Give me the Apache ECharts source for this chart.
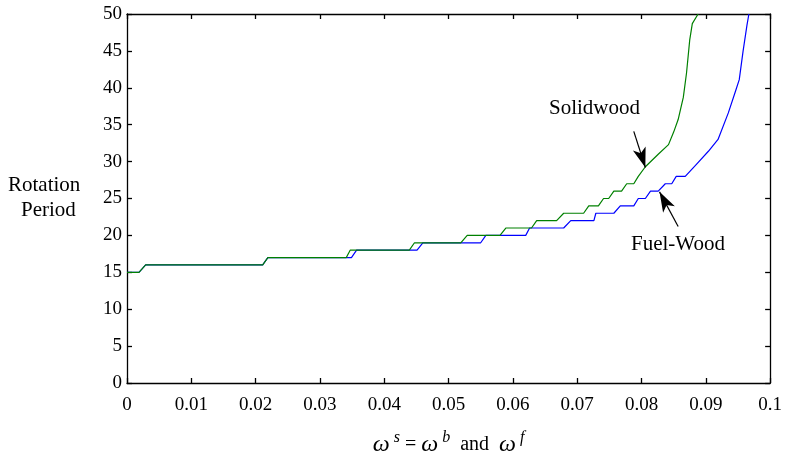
<!DOCTYPE html>
<html><head><meta charset="utf-8">
<script src="https://cdn.jsdelivr.net/npm/echarts@6/dist/echarts.min.js"></script>
<style>html,body{margin:0;padding:0;background:#fff}#c{width:785px;height:462px}</style>
</head><body><div id="c"></div>
<script>
// Solidwood (green)
var solidX = [0, 0.00186, 0.0029, 0.0211, 0.0219, 0.0341, 0.0347, 0.0439, 0.0447, 0.0519, 0.0529, 0.0580, 0.0589, 0.0629, 0.0637, 0.0668, 0.0679, 0.0710, 0.0718, 0.0733, 0.0741, 0.0749, 0.0757, 0.0769, 0.0777, 0.0788, 0.0795, 0.0806, 0.0826, 0.0842, 0.0850, 0.0857, 0.0865, 0.0870, 0.0875, 0.0879, 0.0888];
var solidY = [15, 15, 16, 16, 17, 17, 18, 18, 19, 19, 20, 20, 21, 21, 22, 22, 23, 23, 24, 24, 25, 25, 26, 26, 27, 27, 28, 29.3, 31.0, 32.3, 34.0, 35.7, 38.7, 42.0, 46.5, 48.7, 50];
// Fuel-Wood (blue)
var fuelX = [0, 0.00186, 0.0029, 0.0211, 0.0219, 0.0349, 0.0357, 0.0451, 0.0460, 0.0550, 0.0558, 0.0620, 0.0626, 0.0679, 0.0690, 0.0726, 0.0729, 0.0757, 0.0767, 0.0788, 0.0795, 0.0806, 0.0814, 0.0826, 0.0837, 0.0847, 0.0854, 0.0868, 0.0885, 0.0904, 0.0919, 0.0935, 0.0946, 0.0952, 0.0958, 0.0964, 0.0967];
var fuelY = [15, 15, 16, 16, 17, 17, 18, 18, 19, 19, 20, 20, 21, 21, 22, 22, 23, 23, 24, 24, 25, 25, 26, 26, 27, 27, 28, 28, 29.6, 31.4, 33.0, 36.6, 39.5, 41.1, 45.0, 48.5, 50];
var xTickLabels = ['0', '0.01', '0.02', '0.03', '0.04', '0.05', '0.06', '0.07', '0.08', '0.09', '0.1'];
var yTickLabels = ['0', '5', '10', '15', '20', '25', '30', '35', '40', '45', '50'];

function pairs(xs, ys) { return xs.map(function (x, i) { return [x, ys[i]]; }); }

var FONT = 'Liberation Serif';
var chart = echarts.init(document.getElementById('c'));
var axisLine = { show: true, onZero: false, lineStyle: { color: '#000', width: 1.3 } };
var tick = { show: true, inside: true, length: 5, lineStyle: { color: '#000', width: 1.3 } };
var option = {
  animation: false,
  backgroundColor: '#fff',
  grid: { left: 127, right: 13, top: 14, bottom: 77 },
  xAxis: [{
    type: 'value', min: 0, max: 0.1, interval: 0.01,
    axisLine: axisLine, axisTick: tick, splitLine: { show: false },
    axisLabel: { color: '#000', fontFamily: FONT, fontSize: 19, margin: 13,
      formatter: function (v) { return xTickLabels[Math.round(v / 0.01)]; } },
    name: '{w|ω}{sup| s}{t| = }{w|ω}{sup| b}{t|  and  }{w|ω}{sup| f}',
    nameLocation: 'middle', nameGap: 47,
    nameTextStyle: { rich: {
      w: { fontFamily: FONT, fontStyle: 'italic', fontSize: 24, color: '#000' },
      sup: { fontFamily: FONT, fontStyle: 'italic', fontSize: 16, color: '#000', verticalAlign: 'top', padding: [0, 0, 14, 0] },
      t: { fontFamily: FONT, fontSize: 20, color: '#000' }
    } }
  }, {
    type: 'value', position: 'top', min: 0, max: 0.1, interval: 0.01,
    axisLine: axisLine, axisTick: tick, axisLabel: { show: false }, splitLine: { show: false }
  }],
  yAxis: [{
    type: 'value', min: 0, max: 50, interval: 5,
    axisLine: axisLine, axisTick: tick, splitLine: { show: false },
    axisLabel: { color: '#000', fontFamily: FONT, fontSize: 19, margin: 5,
      formatter: function (v) { return yTickLabels[Math.round(v / 5)]; } }
  }, {
    type: 'value', position: 'right', min: 0, max: 50, interval: 5,
    axisLine: axisLine, axisTick: tick, axisLabel: { show: false }, splitLine: { show: false }
  }],
  series: [{
    name: 'Fuel-Wood', type: 'line', data: pairs(fuelX, fuelY), showSymbol: false, symbol: 'none',
    lineStyle: { color: '#0000ff', width: 1.2 }, z: 2,
    markLine: { silent: true, symbol: ['none', 'arrow'], symbolSize: [10, 20],
      lineStyle: { color: '#000', width: 1.2, type: 'solid' }, label: { show: false },
      data: [[{ coord: [0.0857, 21.2] }, { coord: [0.0828, 25.9] }]] }
  }, {
    name: 'Solidwood', type: 'line', data: pairs(solidX, solidY), showSymbol: false, symbol: 'none',
    lineStyle: { color: '#008000', width: 1.2 }, z: 3,
    markLine: { silent: true, symbol: ['none', 'arrow'], symbolSize: [10, 20],
      lineStyle: { color: '#000', width: 1.2, type: 'solid' }, label: { show: false },
      data: [[{ coord: [0.0788, 34.1] }, { coord: [0.0806, 29.2] }]] }
  }],
  graphic: [
    { type: 'text', left: 8, top: 175, style: { text: 'Rotation', font: '21px "Liberation Serif"', fill: '#000' } },
    { type: 'text', left: 21, top: 200, style: { text: 'Period', font: '21px "Liberation Serif"', fill: '#000' } },
    { type: 'text', left: 549, top: 98, style: { text: 'Solidwood', font: '21px "Liberation Serif"', fill: '#000' } },
    { type: 'text', left: 631, top: 234, style: { text: 'Fuel-Wood', font: '21px "Liberation Serif"', fill: '#000' } }
  ]
};
chart.setOption(option);
</script>
</body></html>
